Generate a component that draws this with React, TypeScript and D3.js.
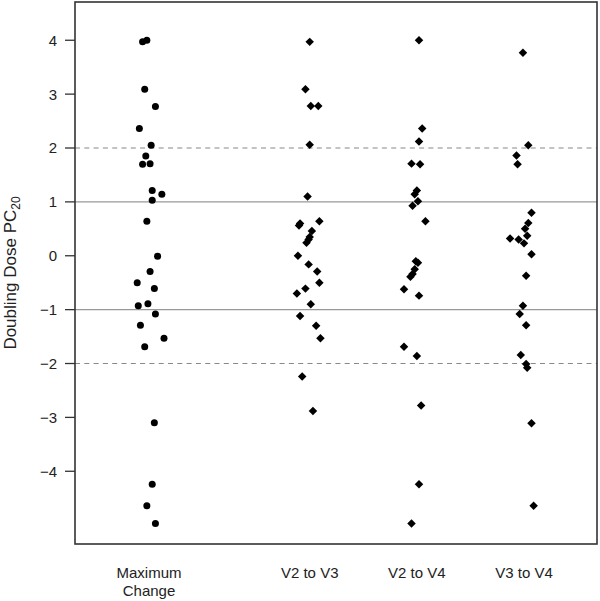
import * as d3 from "d3";

// group names and their slot on the x axis
const groups = ["Maximum Change", "V2 to V3", "V2 to V4", "V3 to V4"];
const groupPos = [1, 2.5, 3.5, 4.5];

// doubling dose values per group
const maxChange = [3.97, 4.0, 3.09, 2.77, 2.36, 2.05, 1.85, 1.7, 1.71, 1.21, 1.14, 1.03, 0.64, -0.01, -0.29, -0.5, -0.61, -0.93, -0.89, -1.08, -1.29, -1.53, -1.69, -3.1, -4.24, -4.64, -4.97];
const maxChangeJitter = [-0.06, -0.02, -0.04, 0.06, -0.09, 0.02, -0.03, -0.06, 0.01, 0.03, 0.12, 0.03, -0.02, 0.08, 0.01, -0.11, 0.05, -0.1, -0.01, 0.06, -0.08, 0.14, -0.04, 0.05, 0.03, -0.02, 0.06];

const v2v3 = [3.97, 3.09, 2.78, 2.78, 2.06, 1.1, 0.64, 0.56, 0.6, 0.46, 0.35, 0.3, 0.24, 0.0, -0.16, -0.29, -0.5, -0.61, -0.7, -0.9, -1.12, -1.3, -1.53, -2.24, -2.88];
const v2v3Jitter = [0.0, -0.04, 0.01, 0.08, 0.0, -0.02, 0.09, -0.1, -0.09, 0.02, 0.0, -0.01, -0.03, -0.11, -0.01, 0.07, 0.09, -0.04, -0.12, 0.01, -0.09, 0.06, 0.1, -0.07, 0.03];

const v2v4 = [4.0, 2.36, 2.12, 1.71, 1.7, 1.21, 1.14, 1.01, 0.93, 0.64, -0.1, -0.13, -0.25, -0.34, -0.39, -0.62, -0.74, -1.69, -1.86, -2.78, -4.24, -4.97];
const v2v4Jitter = [0.02, 0.05, 0.02, -0.05, 0.03, 0.0, -0.02, 0.01, -0.04, 0.08, -0.01, 0.01, -0.02, -0.04, -0.06, -0.12, 0.02, -0.12, 0.0, 0.04, 0.02, -0.05];

const v3v4 = [3.77, 2.05, 1.86, 1.7, 0.8, 0.61, 0.5, 0.37, 0.32, 0.3, 0.23, 0.03, -0.37, -0.93, -1.08, -1.29, -1.84, -2.01, -2.08, -3.11, -4.64];
const v3v4Jitter = [-0.01, 0.04, -0.07, -0.06, 0.07, 0.04, 0.01, 0.03, -0.13, -0.05, 0.0, 0.07, 0.02, -0.01, -0.04, 0.02, -0.03, 0.02, 0.03, 0.07, 0.09];

const yTicks = [4, 3, 2, 1, 0, -1, -2, -3, -4];
const solidRefs = [1, -1];
const dashedRefs = [2, -2];

const width = 600;
const height = 601;
const plot = { left: 75, right: 597, top: 2, bottom: 544 };
const font = "'Liberation Sans', Arial, Helvetica, sans-serif";

export default function App() {
  const x = d3.scaleLinear().domain([1, 4.5]).range([149, 524]);
  const y = d3.scaleLinear().domain([-5.35, 4.71]).range([plot.bottom, plot.top]);

  const series = [
    { values: maxChange, jitter: maxChangeJitter, pos: groupPos[0], shape: "circle" },
    { values: v2v3, jitter: v2v3Jitter, pos: groupPos[1], shape: "diamond" },
    { values: v2v4, jitter: v2v4Jitter, pos: groupPos[2], shape: "diamond" },
    { values: v3v4, jitter: v3v4Jitter, pos: groupPos[3], shape: "diamond" },
  ];

  const diamond = d3.symbol().type(d3.symbolSquare).size(36)();

  const fmt = (d: number) => (d < 0 ? "\u2212" + Math.abs(d) : String(d));

  return (
    <svg
      width={width}
      height={height}
      style={{ position: "absolute", left: 0, top: 0, background: "#fff" }}
      fontFamily={font}
    >
      {/* reference lines */}
      {solidRefs.map((r) => (
        <line key={"s" + r} x1={plot.left} x2={plot.right} y1={y(r)} y2={y(r)} stroke="#999" strokeWidth={1.3} />
      ))}
      {dashedRefs.map((r) => (
        <line key={"d" + r} x1={plot.left} x2={plot.right} y1={y(r)} y2={y(r)} stroke="#888" strokeWidth={1.2} strokeDasharray="5,4.3" />
      ))}

      {/* points */}
      {series.map((s, si) =>
        s.values.map((v, i) => {
          const cx = x(s.pos + s.jitter[i]);
          const cy = y(v);
          return s.shape === "circle" ? (
            <circle key={si + "-" + i} cx={cx} cy={cy} r={3.5} fill="#000" />
          ) : (
            <path key={si + "-" + i} d={diamond as string} transform={`translate(${cx},${cy}) rotate(45)`} fill="#000" />
          );
        })
      )}

      {/* frame */}
      <rect
        x={plot.left}
        y={plot.top}
        width={plot.right - plot.left}
        height={plot.bottom - plot.top}
        fill="none"
        stroke="#333"
        strokeWidth={1.6}
      />

      {/* y axis */}
      {yTicks.map((t) => (
        <g key={t} transform={`translate(0,${y(t)})`}>
          <line x1={65} x2={plot.left} stroke="#333" strokeWidth={1.3} />
          <text x={57} dy="0.36em" textAnchor="end" fontSize={15} fill="#222">
            {fmt(t)}
          </text>
        </g>
      ))}

      <text
        transform={`translate(16,${(plot.top + plot.bottom) / 2}) rotate(-90)`}
        textAnchor="middle"
        fontSize={17}
        fill="#222"
      >
        Doubling Dose PC
        <tspan fontSize={12} dy={4}>20</tspan>
      </text>

      {/* x labels */}
      {groups.map((g, i) => {
        const words = g === "Maximum Change" ? ["Maximum", "Change"] : [g];
        return (
          <text key={g} x={x(groupPos[i])} y={578} textAnchor="middle" fontSize={15} fill="#222">
            {words.map((w, j) => (
              <tspan key={w} x={x(groupPos[i])} dy={j === 0 ? 0 : 18}>
                {w}
              </tspan>
            ))}
          </text>
        );
      })}
    </svg>
  );
}
